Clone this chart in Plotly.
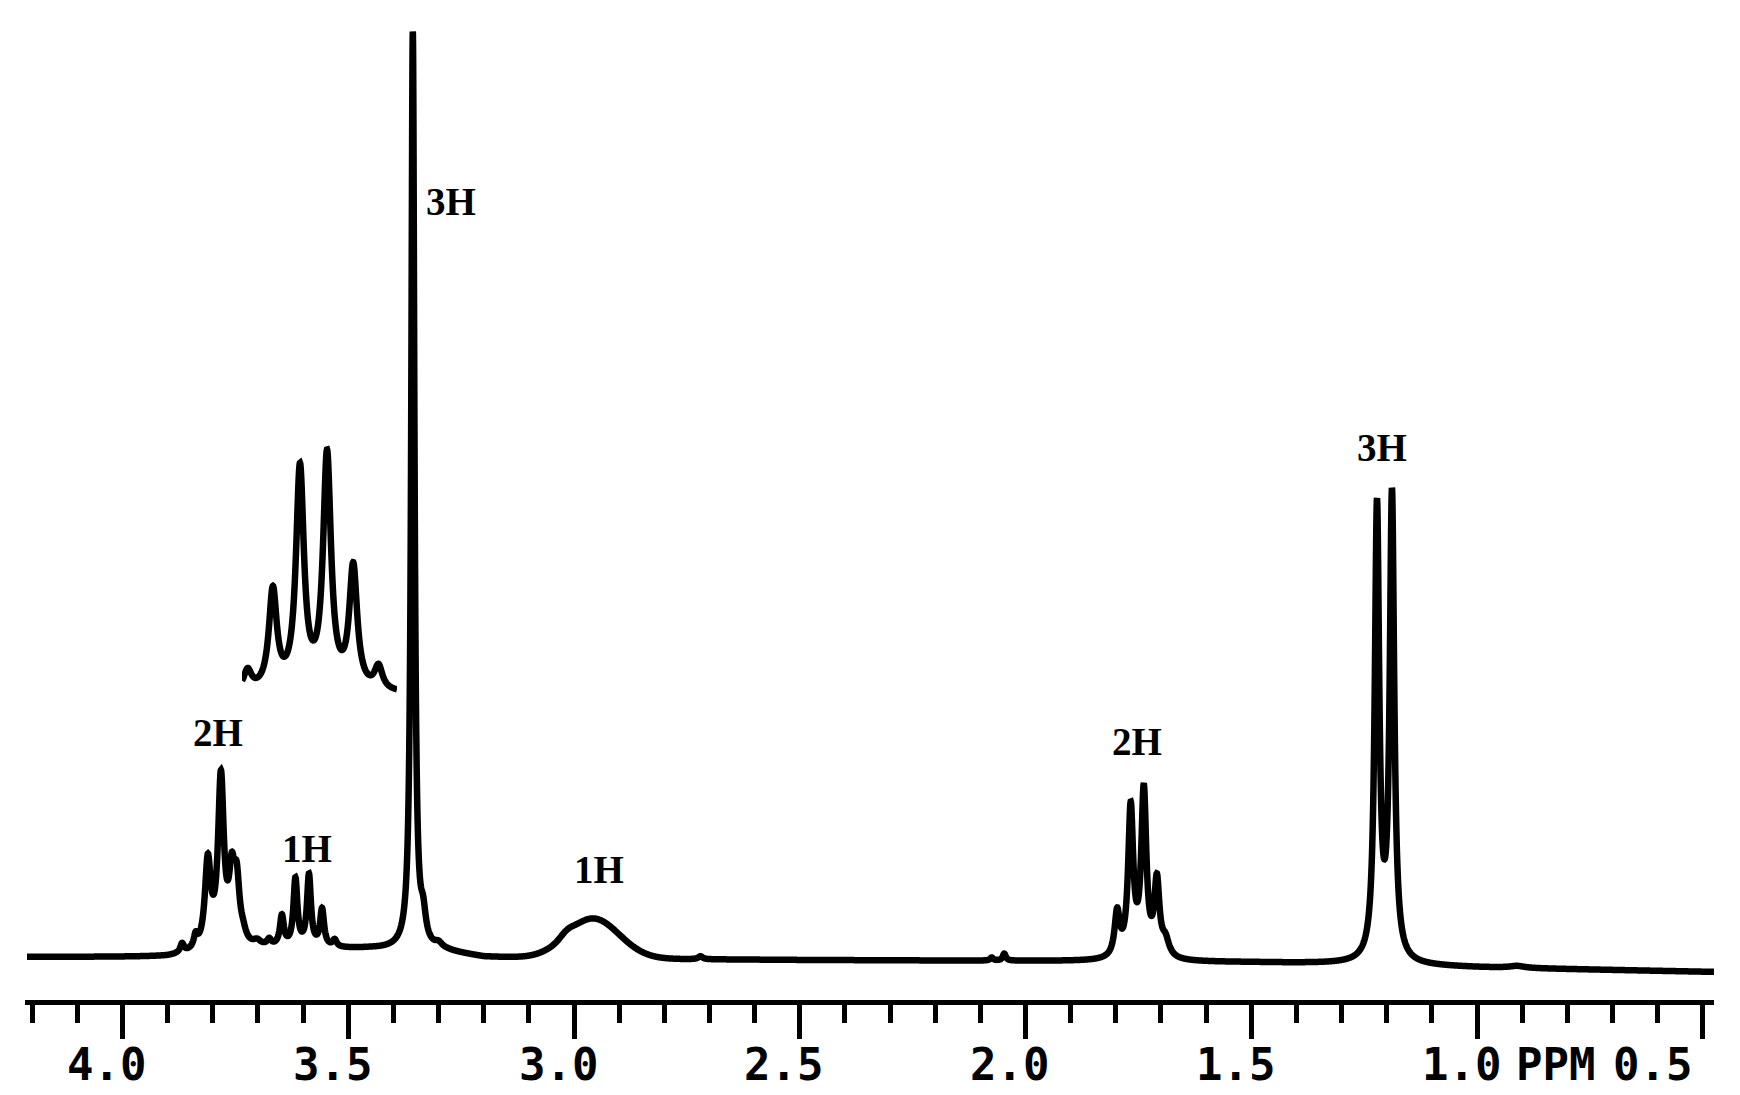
import numpy as np
import plotly.graph_objects as go

W, H = 1740, 1095

# ---------------- data ----------------
# each line: position (ppm), height (plot px above baseline), half width (ppm)
# OCH2 multiplet (2H) near 3.78 ppm
och2_ppm = [3.868, 3.838, 3.811, 3.782, 3.758, 3.747, 3.733, 3.702]
och2_h = [9, 12, 86, 168, 62, 58, 8, 5]
och2_w = [0.005, 0.005, 0.0078, 0.0078, 0.0075, 0.0075, 0.008, 0.010]
# CH multiplet (1H) near 3.60 ppm, also drawn expanded in the inset
ch_ppm = [3.675, 3.647, 3.617, 3.587, 3.558, 3.530]
ch_h = [6, 30, 67, 71, 37, 7]
ch_w = [0.0053, 0.0053, 0.0053, 0.0053, 0.0053, 0.0053]
# OCH3 singlet (3H) at 3.36 ppm
ome_ppm = [3.357, 3.334, 3.300]
ome_h = [917, 25, 5]
ome_w = [0.0042, 0.007, 0.010]
# OH broad signal (1H) near 2.96 ppm (gaussian shape)
oh_ppm = [2.958, 3.016]
oh_h = [40, 4]
oh_sigma = [0.058, 0.014]
# small impurity lines
minor_ppm = [2.720, 2.075, 2.047, 0.911]
minor_h = [3, 3, 7, 2]
minor_w = [0.006, 0.004, 0.004, 0.020]
# CH2 multiplet (2H) near 1.74 ppm
ch2_ppm = [1.797, 1.767, 1.738, 1.709, 1.690]
ch2_h = [44, 148, 165, 74, 16]
ch2_w = [0.0068, 0.0068, 0.0068, 0.0068, 0.010]
# CH3 doublet (3H) near 1.20 ppm
ch3_ppm = [1.2215, 1.1883]
ch3_h = [452, 463]
ch3_w = [0.006, 0.006]
# baseline level (plot px above the page bottom) along the trace
base_ppm = [0.47, 1.00, 1.30, 1.50, 2.00, 2.50, 3.00, 3.10, 3.20, 3.28, 3.45, 3.68, 3.90, 4.22]
base_level = [123, 127.5, 131, 132.5, 134, 135, 136.5, 137, 138, 143, 146, 146, 138, 138]

# axis ticks and labels
tick_vals = [4.0, 3.5, 3.0, 2.5, 2.0, 1.5, 1.0]
tick_text = ["4.0", "3.5", "3.0", "2.5", "2.0", "1.5", "1.0"]
unit_text = "PPM"
end_val, end_text = 0.5, "0.5"

# integration labels
label_text = ["2H", "1H", "3H", "1H", "2H", "3H"]
label_ppm = [3.7885, 3.591, 3.2725, 2.9446, 1.7529, 1.2104]
label_level = [363, 247, 894, 226, 354, 648]

# ---------------- calibration of the page ----------------
PX_PER_PPM = 451.5
X4_PX = 122.5            # pixel column of 4.0 ppm
AX_L, AX_R = 25, 1714    # pixel extent of the axis line
x_left = 4.0 + (X4_PX - AX_L) / PX_PER_PPM
x_right = 4.0 - (AX_R - X4_PX) / PX_PER_PPM
AXIS_PX = 1002
TICKLABEL_LEVEL = H - 1064

# inset: CH multiplet expanded 2x horizontally
INSET_L, INSET_R = 242, 397
INSET_PX_PER_PPM = 2 * PX_PER_PPM
INSET_REF_PPM, INSET_REF_PX = 3.602, 313.5
inset_left = INSET_REF_PPM + (INSET_REF_PX - INSET_L) / INSET_PX_PER_PPM
inset_right = INSET_REF_PPM - (INSET_R - INSET_REF_PX) / INSET_PX_PER_PPM
INSET_BASE_PX = 694
INSET_SCALE = 3.28


def lorentz(x, ppm, h, w):
    out = np.zeros_like(x)
    for p, a, g in zip(ppm, h, w):
        out += a / (1.0 + ((x - p) / g) ** 2)
    return out


def gauss(x, ppm, h, s):
    out = np.zeros_like(x)
    for p, a, g in zip(ppm, h, s):
        out += a * np.exp(-0.5 * ((x - p) / g) ** 2)
    return out


x = np.arange(0.472, 4.2115, 0.0003)
sig = (lorentz(x, och2_ppm, och2_h, och2_w) + lorentz(x, ch_ppm, ch_h, ch_w)
       + lorentz(x, ome_ppm, ome_h, ome_w) + gauss(x, oh_ppm, oh_h, oh_sigma)
       + lorentz(x, minor_ppm, minor_h, minor_w) + lorentz(x, ch2_ppm, ch2_h, ch2_w)
       + lorentz(x, ch3_ppm, ch3_h, ch3_w))
y = np.interp(x, base_ppm, base_level) + sig

xi = np.arange(inset_right, inset_left + 1e-9, 0.0002)
yi = lorentz(xi, ch_ppm, ch_h, ch_w)

LW = 6.5
fig = go.Figure()
fig.add_trace(go.Scatter(x=x, y=y, mode="lines", xaxis="x", yaxis="y",
                         line=dict(color="black", width=LW, simplify=False), hoverinfo="skip"))
fig.add_trace(go.Scatter(x=xi, y=yi, mode="lines", xaxis="x2", yaxis="y2",
                         line=dict(color="black", width=LW, simplify=False), hoverinfo="skip"))

tick_font = dict(family="DejaVu Sans Mono", size=44, color="black", weight="bold")
lab_font = dict(family="Liberation Serif, Times New Roman, serif", size=39, color="black", weight="bold")

ann = []
for v, t in zip(tick_vals, tick_text):
    ann.append(dict(x=v, y=TICKLABEL_LEVEL, xref="x", yref="y", text=t, showarrow=False,
                    xshift=-16, xanchor="center", yanchor="middle", font=tick_font))
ann.append(dict(x=1.0, y=TICKLABEL_LEVEL, xref="x", yref="y", text=unit_text, showarrow=False,
                xshift=78, xanchor="center", yanchor="middle", font=tick_font))
ann.append(dict(x=end_val, y=TICKLABEL_LEVEL, xref="x", yref="y", text=end_text, showarrow=False,
                xshift=-50, xanchor="center", yanchor="middle", font=tick_font))
for t, p, lv in zip(label_text, label_ppm, label_level):
    ann.append(dict(x=p, y=lv, xref="x", yref="y", text=t, showarrow=False,
                    xanchor="center", yanchor="middle", font=lab_font))

fig.update_layout(
    width=W, height=H, autosize=False,
    margin=dict(l=0, r=0, t=0, b=0, pad=0),
    paper_bgcolor="white", plot_bgcolor="rgba(0,0,0,0)", showlegend=False,
    xaxis=dict(domain=[AX_L / W, AX_R / W], range=[x_left, x_right],
               anchor="free", position=(H - AXIS_PX) / H,
               showgrid=False, zeroline=False, showline=True,
               linecolor="black", linewidth=5,
               ticks="outside", ticklen=34, tickwidth=4.5, tickcolor="black",
               tickmode="linear", tick0=0, dtick=0.5, showticklabels=False,
               minor=dict(ticks="outside", tick0=0, dtick=0.1, ticklen=18,
                          tickwidth=4.5, tickcolor="black", showgrid=False)),
    yaxis=dict(domain=[0, 1], range=[0, H], visible=False, anchor="x"),
    xaxis2=dict(domain=[INSET_L / W, INSET_R / W], range=[inset_left, inset_right],
                visible=False, anchor="y2"),
    yaxis2=dict(domain=[0, 1],
                range=[(INSET_BASE_PX - H) / INSET_SCALE, INSET_BASE_PX / INSET_SCALE],
                visible=False, anchor="x2"),
    annotations=ann,
)

fig.write_html("out.html", config={"displayModeBar": False},
               post_script="document.body.style.margin='0';document.body.style.overflow='hidden';")
